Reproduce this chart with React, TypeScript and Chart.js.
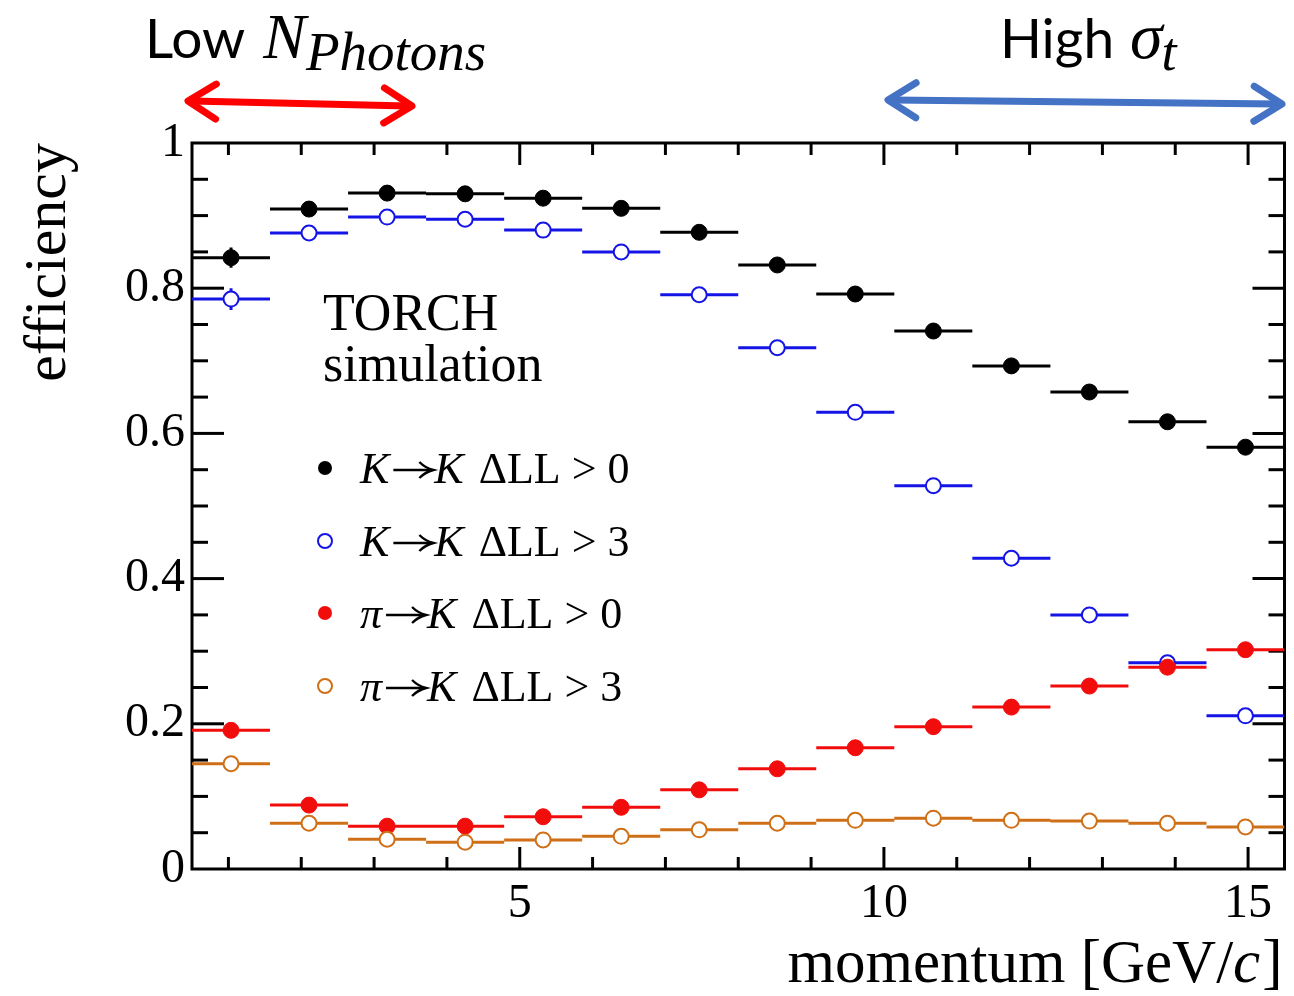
import React, { useEffect, useRef } from 'react';
import { Chart, registerables } from 'chart.js';

Chart.register(...registerables);

// ---------- data ----------
const binEdges = [0.5, 1.571, 2.643, 3.714, 4.786, 5.857, 6.929, 8.0, 9.071, 10.143, 11.214, 12.286, 13.357, 14.429, 15.5];
const momentum = [1.036, 2.107, 3.179, 4.25, 5.321, 6.393, 7.464, 8.536, 9.607, 10.679, 11.75, 12.821, 13.893, 14.964];

const effKtoK0 = [0.842, 0.909, 0.931, 0.930, 0.924, 0.910, 0.877, 0.832, 0.792, 0.741, 0.693, 0.657, 0.616, 0.581];
const effKtoK3 = [0.785, 0.876, 0.898, 0.895, 0.880, 0.850, 0.791, 0.718, 0.629, 0.528, 0.428, 0.350, 0.284, 0.211];
const effPiToK0 = [0.191, 0.088, 0.059, 0.059, 0.072, 0.085, 0.109, 0.138, 0.167, 0.196, 0.223, 0.252, 0.278, 0.302];
const effPiToK3 = [0.145, 0.063, 0.041, 0.037, 0.040, 0.045, 0.054, 0.063, 0.067, 0.070, 0.067, 0.066, 0.063, 0.058];

const errKtoK0 = [0.014, 0, 0, 0, 0, 0, 0, 0, 0, 0, 0, 0, 0, 0];
const errKtoK3 = [0.015, 0, 0, 0, 0, 0, 0, 0, 0, 0, 0, 0, 0, 0];

const seriesColors = ['#000000', '#1414e6', '#f20d0d', '#cf6f17'];
const seriesOpen = [false, true, false, true];
const legendFrom = ['K', 'K', 'π', 'π'];
const legendTo = ['K', 'K', 'K', 'K'];
const legendCut = ['0', '3', '0', '3'];

const xTickValues = [5, 10, 15];
const xTickLabels = ['5', '10', '15'];
const yTickValues = [0, 0.2, 0.4, 0.6, 0.8, 1];
const yTickLabels = ['0', '0.2', '0.4', '0.6', '0.8', '1'];

const xTitleParts = ['momentum [GeV/', 'c', ']'];
const yTitle = 'efficiency';
const plotLabel = ['TORCH', 'simulation'];

const SERIF = "'Liberation Serif', 'Times New Roman', serif";
const SANS = "Lato, 'Open Sans', sans-serif";

// ---------- helpers ----------
function binSegments(values: number[]) {
  const pts: { x: number; y: number | null }[] = [];
  values.forEach((v, i) => {
    pts.push({ x: binEdges[i], y: v });
    pts.push({ x: binEdges[i + 1], y: v });
    pts.push({ x: binEdges[i + 1], y: null });
  });
  return pts;
}

function errSegments(values: number[], errs: number[]) {
  const pts: { x: number; y: number | null }[] = [];
  values.forEach((v, i) => {
    if (errs[i] > 0) {
      pts.push({ x: momentum[i], y: v - errs[i] });
      pts.push({ x: momentum[i], y: v + errs[i] });
      pts.push({ x: momentum[i], y: null });
    }
  });
  return pts;
}

function points(values: number[]) {
  return values.map((v, i) => ({ x: momentum[i], y: v }));
}

type Run = { text: string; font: string; dy?: number; gap?: number; arrow?: number };
function measureRuns(ctx: CanvasRenderingContext2D, runs: Run[]) {
  let w = 0;
  for (const r of runs) {
    if (r.arrow) { w += r.arrow + (r.gap || 0); continue; }
    ctx.font = r.font;
    w += ctx.measureText(r.text).width + (r.gap || 0);
  }
  return w;
}
function drawRuns(ctx: CanvasRenderingContext2D, runs: Run[], x: number, y: number) {
  let cx = x;
  for (const r of runs) {
    if (r.arrow) {
      // text arrow glyph drawn as a stroke (long right arrow)
      const ay = y - 13;
      ctx.save();
      ctx.strokeStyle = ctx.fillStyle as string;
      ctx.lineWidth = 2.4;
      ctx.lineCap = 'butt';
      line(ctx, cx + 2, ay, cx + r.arrow - 3, ay);
      ctx.beginPath();
      ctx.moveTo(cx + r.arrow - 14, ay - 8);
      ctx.quadraticCurveTo(cx + r.arrow - 8, ay - 2, cx + r.arrow, ay);
      ctx.quadraticCurveTo(cx + r.arrow - 8, ay + 2, cx + r.arrow - 14, ay + 8);
      ctx.stroke();
      ctx.restore();
      cx += r.arrow + (r.gap || 0);
      continue;
    }
    ctx.font = r.font;
    ctx.fillText(r.text, cx, y + (r.dy || 0));
    cx += ctx.measureText(r.text).width + (r.gap || 0);
  }
}

function line(ctx: CanvasRenderingContext2D, x1: number, y1: number, x2: number, y2: number) {
  ctx.beginPath();
  ctx.moveTo(x1, y1);
  ctx.lineTo(x2, y2);
  ctx.stroke();
}

function doubleArrow(ctx: CanvasRenderingContext2D, x1: number, y1: number, x2: number, y2: number, color: string) {
  ctx.save();
  ctx.strokeStyle = color;
  ctx.lineWidth = 7;
  ctx.lineCap = 'round';
  ctx.lineJoin = 'round';
  line(ctx, x1 + 4, y1, x2 - 4, y2);
  const ang = Math.atan2(y2 - y1, x2 - x1);
  const head = 33;
  const spread = 0.56;
  for (const [tx, ty, a] of [[x1, y1, ang], [x2, y2, ang + Math.PI]] as [number, number, number][]) {
    ctx.beginPath();
    ctx.moveTo(tx + head * Math.cos(a - spread), ty + head * Math.sin(a - spread));
    ctx.lineTo(tx, ty);
    ctx.lineTo(tx + head * Math.cos(a + spread), ty + head * Math.sin(a + spread));
    ctx.stroke();
  }
  ctx.restore();
}

// frame and inner tick marks (drawn before data)
const framePlugin = {
  id: 'frame',
  beforeDatasetsDraw(chart: any) {
    const { ctx, chartArea, scales } = chart;
    const { left, right, top, bottom } = chartArea;
    const xs = scales.x;
    const ys = scales.y;
    ctx.save();
    ctx.strokeStyle = '#000';
    ctx.lineWidth = 3;
    ctx.lineCap = 'butt';
    for (let v = 1; v <= 15; v++) {
      const px = xs.getPixelForValue(v);
      const len = v % 5 === 0 ? 22 : 12;
      line(ctx, px, bottom, px, bottom - len);
      line(ctx, px, top, px, top + len);
    }
    for (let k = 1; k < 20; k++) {
      const py = ys.getPixelForValue(k * 0.05);
      const len = k % 4 === 0 ? 32 : 16;
      line(ctx, left, py, left + len, py);
      line(ctx, right, py, right - len, py);
    }
    ctx.strokeRect(left, top, right - left, bottom - top);
    ctx.restore();
  },
};

// legend, plot label, x title and annotations
const overlayPlugin = {
  id: 'overlay',
  afterDraw(chart: any) {
    const { ctx, chartArea } = chart;
    ctx.save();
    ctx.fillStyle = '#000';
    ctx.textBaseline = 'alphabetic';
    ctx.textAlign = 'left';

    // x axis title (with italic c), right aligned to plot edge
    const titleRuns: Run[] = [
      { text: xTitleParts[0], font: `61px ${SERIF}` },
      { text: xTitleParts[1], font: `italic 61px ${SERIF}`, gap: 2 },
      { text: xTitleParts[2], font: `61px ${SERIF}` },
    ];
    const tw = measureRuns(ctx, titleRuns);
    drawRuns(ctx, titleRuns, chartArea.right - 2 - tw, 982);

    // TORCH simulation
    ctx.font = `52px ${SERIF}`;
    ctx.fillText(plotLabel[0], 323, 330);
    ctx.fillText(plotLabel[1], 323, 381);

    // legend
    const rows = [468, 541, 613, 686];
    rows.forEach((yc, i) => {
      ctx.beginPath();
      ctx.arc(325, yc, 7, 0, Math.PI * 2);
      if (seriesOpen[i]) {
        ctx.strokeStyle = seriesColors[i];
        ctx.lineWidth = 2;
        ctx.stroke();
      } else {
        ctx.fillStyle = seriesColors[i];
        ctx.fill();
      }
      ctx.fillStyle = '#000';
      drawRuns(ctx, [
        { text: legendFrom[i], font: `italic 44px ${SERIF}`, gap: 2 },
        { text: '→', font: `44px ${SERIF}`, arrow: 42, gap: 1 },
        { text: legendTo[i], font: `italic 44px ${SERIF}`, gap: 15 },
        { text: 'ΔLL > ' + legendCut[i], font: `44px ${SERIF}` },
      ], 360, yc + 15);
    });

    // top annotations
    ctx.fillStyle = '#000';
    drawRuns(ctx, [
      { text: 'Low', font: `55px ${SANS}`, gap: 18 },
      { text: 'N', font: `italic 64px ${SERIF}`, gap: 0 },
      { text: 'Photons', font: `italic 55px ${SERIF}`, dy: 12 },
    ], 145, 58);
    drawRuns(ctx, [
      { text: 'High', font: `55px ${SANS}`, gap: 16 },
      { text: 'σ', font: `italic 66px ${SERIF}`, gap: -1 },
      { text: 't', font: `italic 54px ${SERIF}`, dy: 12 },
    ], 1000, 58);

    doubleArrow(ctx, 188, 101, 412, 106, '#ff0000');
    doubleArrow(ctx, 888, 100, 1282, 104, '#4472c4');
    ctx.restore();
  },
};

export default function App() {
  const canvasRef = useRef<HTMLCanvasElement | null>(null);

  useEffect(() => {
    const canvas = canvasRef.current;
    if (!canvas) return;
    const series = [effKtoK0, effKtoK3, effPiToK0, effPiToK3];
    const errs = [errKtoK0, errKtoK3, null, null];
    const datasets: any[] = [];
    series.forEach((vals, i) => {
      const color = seriesColors[i];
      datasets.push({
        type: 'line',
        data: binSegments(vals),
        borderColor: color,
        borderWidth: 3,
        pointRadius: 0,
        spanGaps: false,
        tension: 0,
        order: 20 - i,
      });
      const e = errs[i];
      if (e) {
        datasets.push({
          type: 'line',
          data: errSegments(vals, e),
          borderColor: color,
          borderWidth: 3,
          pointRadius: 0,
          spanGaps: false,
          order: 20 - i,
        });
      }
      datasets.push({
        type: 'line',
        data: points(vals),
        showLine: false,
        pointStyle: 'circle',
        pointRadius: seriesOpen[i] ? 7.5 : 8,
        pointBorderWidth: seriesOpen[i] ? 2 : 1,
        pointBorderColor: color,
        pointBackgroundColor: seriesOpen[i] ? '#ffffff' : color,
        order: 10 - i,
      });
    });

    const chart = new Chart(canvas, {
      type: 'line',
      data: { datasets },
      options: {
        animation: false,
        responsive: false,
        devicePixelRatio: 1,
        events: [],
        layout: { padding: { left: 0, right: 9, top: 143, bottom: 0 } },
        plugins: { legend: { display: false }, tooltip: { enabled: false } },
        scales: {
          x: {
            type: 'linear',
            min: 0.5,
            max: 15.5,
            grid: { display: false, drawTicks: false },
            border: { display: false },
            afterBuildTicks: (scale: any) => {
              scale.ticks = xTickValues.map((value) => ({ value }));
            },
            afterFit: (scale: any) => {
              scale.height = 127;
            },
            ticks: {
              autoSkip: false,
              maxRotation: 0,
              padding: 7,
              color: '#000',
              font: { family: SERIF, size: 48 },
              callback: (_v: any, idx: number) => xTickLabels[idx],
            },
            title: { display: false },
          },
          y: {
            type: 'linear',
            min: 0,
            max: 1,
            grid: { display: false, drawTicks: false },
            border: { display: false },
            afterBuildTicks: (scale: any) => {
              scale.ticks = yTickValues.map((value) => ({ value }));
            },
            afterFit: (scale: any) => {
              scale.width = 192;
            },
            ticks: {
              autoSkip: false,
              padding: 7,
              color: '#000',
              font: { family: SERIF, size: 48 },
              callback: (_v: any, idx: number) => yTickLabels[idx],
            },
            title: {
              display: true,
              text: yTitle,
              align: 'end',
              color: '#000',
              font: { family: SERIF, size: 60 },
              padding: { top: 13, bottom: 0 },
            },
          },
        },
      },
      plugins: [framePlugin, overlayPlugin],
    } as any);

    return () => chart.destroy();
  }, []);

  return (
    <div style={{ position: 'absolute', left: 0, top: 0, width: 1294, height: 996, background: '#fff' }}>
      <canvas ref={canvasRef} width={1294} height={996} style={{ display: 'block' }} />
    </div>
  );
}
